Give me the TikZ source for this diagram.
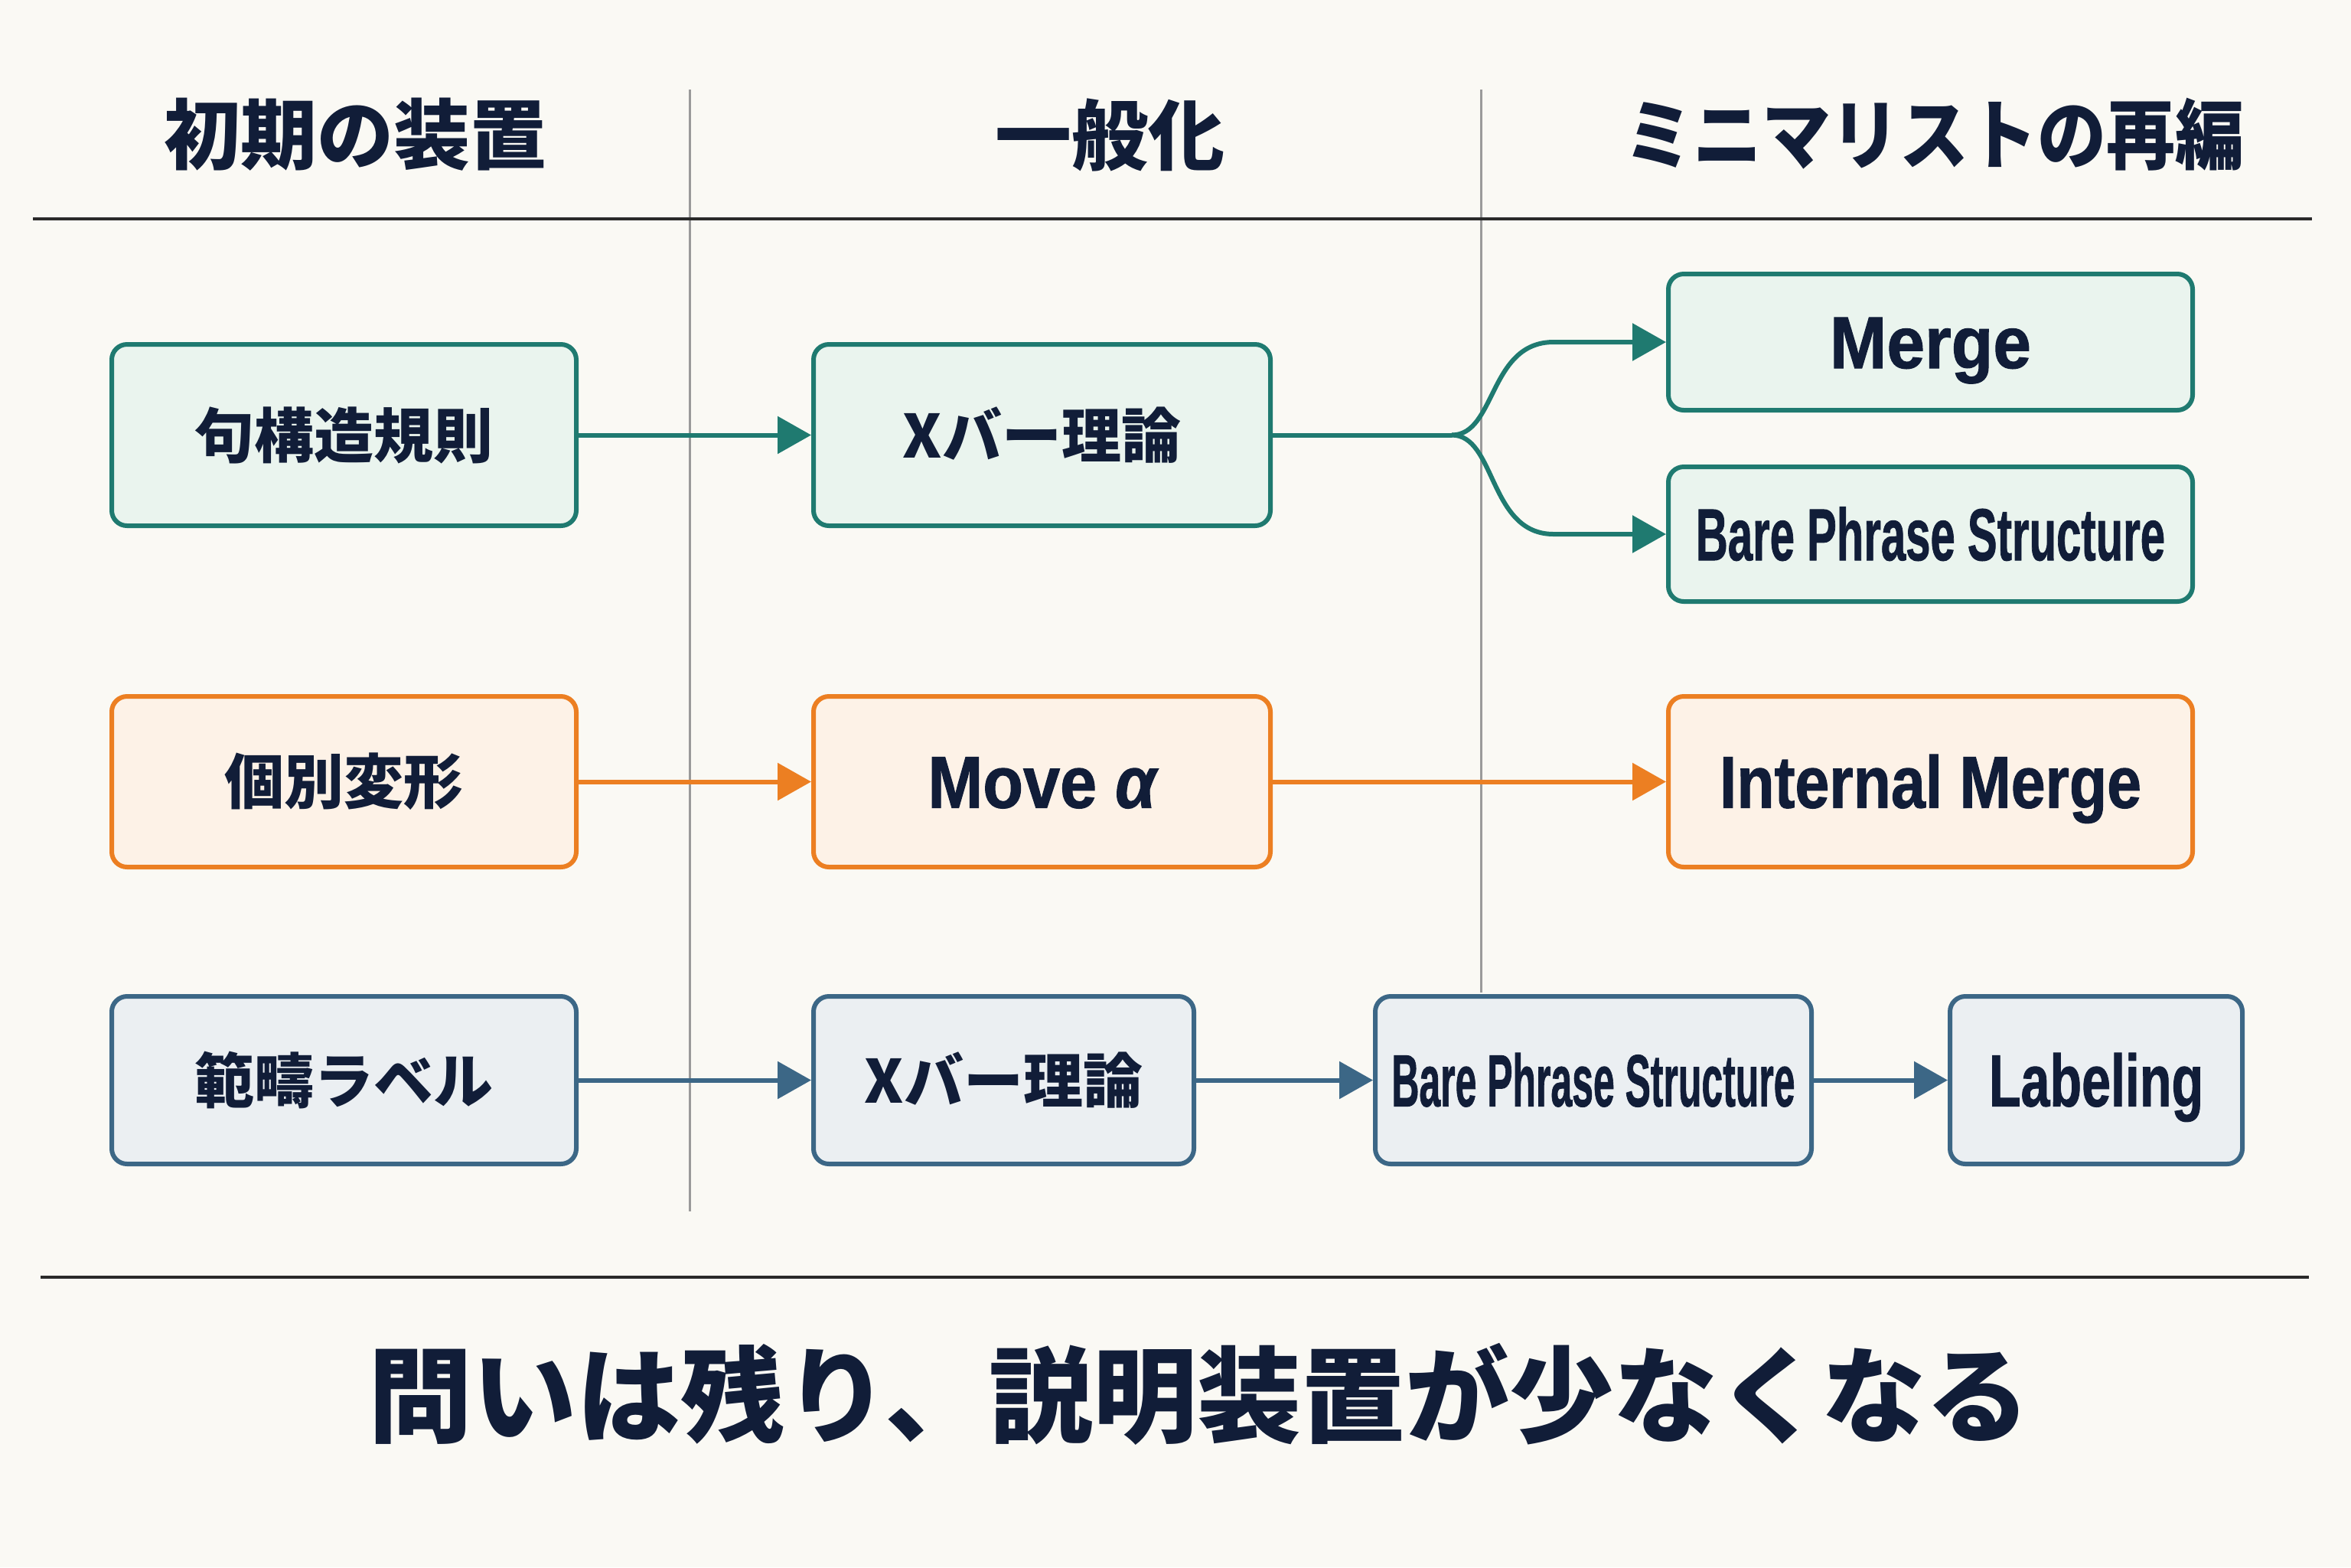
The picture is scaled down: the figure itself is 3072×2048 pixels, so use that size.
\documentclass[tikz,border=0pt]{standalone}
\usepackage{fontspec}
\setmainfont{Noto Sans CJK JP}
\newfontfamily\enf{Liberation Sans}[BoldFont={Liberation Sans Bold}, BoldItalicFont={Liberation Sans Bold Italic}, BoldFeatures={FakeBold=1.2}, BoldItalicFeatures={FakeBold=1.2}]
\usetikzlibrary{arrows.meta}
\definecolor{bg}{HTML}{FAF9F4}
\definecolor{tealB}{HTML}{1F7A70}
\definecolor{tealF}{HTML}{EAF4EE}
\definecolor{orB}{HTML}{EC7F22}
\definecolor{orF}{HTML}{FDF2E7}
\definecolor{blB}{HTML}{3C6786}
\definecolor{blF}{HTML}{EBEFF2}
\definecolor{ink}{HTML}{111D38}
\definecolor{divider}{HTML}{9A9A9A}
\definecolor{rule}{HTML}{2A2A2A}
\begin{document}
\begin{tikzpicture}[x=0.25pt,y=-0.25pt,
  box/.style={draw, rounded corners=5pt, line width=1.5pt, inner sep=0pt, text=ink, align=center},
  jpfont/.style={font=\bfseries\fontsize{19.5}{23}\selectfont},
  enfont/.style={font=\enf\bfseries\fontsize{24}{28}\selectfont, text height=17pt, text depth=0pt},
  tbox/.style={box, draw=tealB, fill=tealF},
  obox/.style={box, draw=orB, fill=orF},
  bbox/.style={box, draw=blB, fill=blF},
  arr/.style={line width=1.5pt, -{Triangle[length=11pt,width=12pt]}},
  head/.style={text=ink, font=\bfseries\fontsize{25}{30}\selectfont},
]
\fill[bg] (0,0) rectangle (3072,2048);
\useasboundingbox (0,0) rectangle (3072,2048);

% rules and dividers
\draw[divider, line width=0.75pt] (901,117) -- (901,1583);
\draw[divider, line width=0.75pt] (1935,117) -- (1935,1297);
\draw[rule, line width=1pt] (43,286) -- (3021,286);
\draw[rule, line width=1pt] (53,1669) -- (3017,1669);

% headers
\node[head] (h1) at (464,176) {初期の装置};
\node[head] (h2) at (1450,176) {一般化};
\node[head] (h3) at (2527,176) {\scalebox{0.9}[1]{ミニマリストの再編}};

% row 1
\node[tbox, jpfont, minimum width=151.75pt, minimum height=59.25pt] (a1) at (449.5,568.5) {句構造規則};
\node[tbox, jpfont, minimum width=149.25pt, minimum height=59.25pt] (a2) at (1361.5,568.5) {Xバー理論};
\node[tbox, enfont, minimum width=171.25pt, minimum height=44.5pt] (a3) at (2522.5,447) {\scalebox{0.93}[1]{Merge}};
\node[tbox, enfont, minimum width=171.25pt, minimum height=44pt] (a4) at (2522.5,698) {\scalebox{0.605}[1]{Bare Phrase Structure}};

% row 2
\node[obox, jpfont, minimum width=151.75pt, minimum height=55.75pt] (b1) at (449.5,1021.5) {個別変形};
\node[obox, enfont, minimum width=149.25pt, minimum height=55.75pt] (b2) at (1361.5,1021.5) {\scalebox{0.9}[1]{Move {\itshape α}}};
\node[obox, enfont, minimum width=171.25pt, minimum height=55.75pt] (b3) at (2522.5,1021.5) {\scalebox{0.84}[1]{Internal Merge}};

% row 3
\node[bbox, jpfont, minimum width=151.75pt, minimum height=54.75pt] (c1) at (449.5,1411.5) {範疇ラベル};
\node[bbox, jpfont, minimum width=124.25pt, minimum height=54.75pt] (c2) at (1311.5,1411.5) {Xバー理論};
\node[bbox, enfont, minimum width=142.5pt, minimum height=54.75pt] (c3) at (2082,1411.5) {\scalebox{0.52}[1]{Bare Phrase Structure}};
\node[bbox, enfont, minimum width=95.5pt, minimum height=54.75pt] (c4) at (2739,1411.5) {\scalebox{0.71}[1]{Labeling}};

% connectors row 1
\coordinate (j) at (1897,568.5);
\coordinate (ju) at (2030,447);
\coordinate (jd) at (2030,698);
\draw[arr, tealB] (a1) -- (a2);
\draw[line width=1.5pt, tealB] (a2.east) -- (j);
\draw[arr, tealB] (j) .. controls (1955,568.5) and (1945,447) .. (ju) -- (a3.west);
\draw[arr, tealB] (j) .. controls (1955,568.5) and (1945,698) .. (jd) -- (a4.west);

% connectors row 2
\draw[arr, orB] (b1) -- (b2);
\draw[arr, orB] (b2) -- (b3);

% connectors row 3
\draw[arr, blB] (c1) -- (c2);
\draw[arr, blB] (c2) -- (c3);
\draw[arr, blB] (c3) -- (c4);

% bottom text
\node[text=ink, font=\bfseries\fontsize{34}{40}\selectfont] (bottom) at (1567,1822) {問いは残り、説明装置が少なくなる};
\end{tikzpicture}
\end{document}
